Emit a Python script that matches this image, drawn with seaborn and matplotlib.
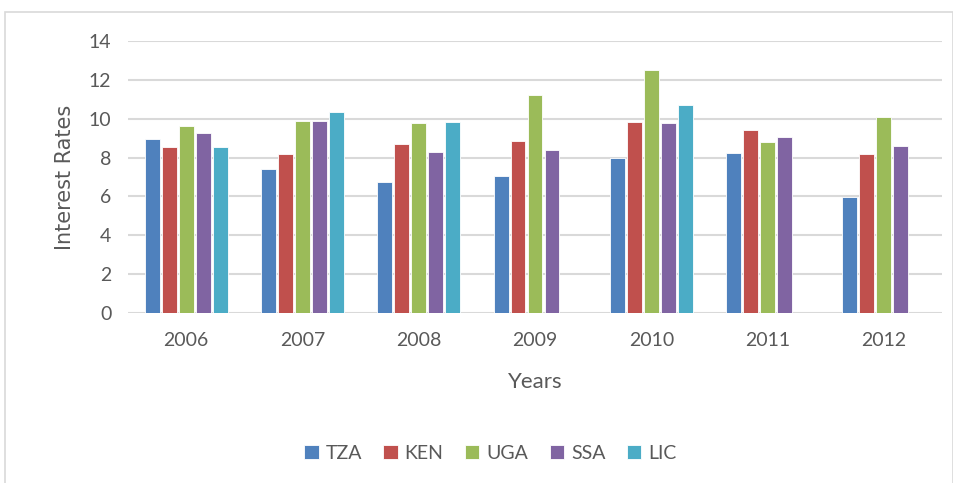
import numpy as np
import pandas as pd
import matplotlib
matplotlib.use('Agg')
import matplotlib.pyplot as plt
import seaborn as sns
from matplotlib.patches import Rectangle

# Data
years = ['2006', '2007', '2008', '2009', '2010', '2011', '2012']
tza = [8.95, 7.40, 6.74, 7.07, 7.98, 8.21, 5.95]
ken = [8.52, 8.19, 8.72, 8.83, 9.81, 9.44, 8.17]
uga = [9.62, 9.86, 9.79, 11.22, 12.49, 8.81, 10.10]
ssa = [9.27, 9.86, 8.27, 8.39, 9.79, 9.07, 8.58]
lic = [8.52, 10.32, 9.81, np.nan, 10.70, np.nan, np.nan]

series = ['TZA', 'KEN', 'UGA', 'SSA', 'LIC']
colors = ['#4F81BD', '#C0504D', '#9BBB59', '#8064A2', '#4BACC6']

# Long format table for seaborn
df = pd.DataFrame({'Year': years, 'TZA': tza, 'KEN': ken, 'UGA': uga,
                   'SSA': ssa, 'LIC': lic})
df_long = df.melt(id_vars='Year', var_name='Series', value_name='Rate').dropna()

sns.set_style('white')
plt.rcParams['font.family'] = ['Lato', 'DejaVu Sans']

fig = plt.figure(figsize=(9.54, 4.83), dpi=100)
ax = fig.add_axes([128 / 954, 1 - 313 / 483, 814 / 954, 272 / 483])

# Outer chart border
fig.patches.append(Rectangle((5 / 954, -0.01), 948 / 954, 1 - 12 / 483 + 0.01,
                             transform=fig.transFigure, fill=False,
                             edgecolor='#D9D9D9', linewidth=1.2))

sns.barplot(data=df_long, x='Year', y='Rate', hue='Series', order=years,
            hue_order=series, palette=colors, width=0.73, gap=0.12,
            saturation=1, edgecolor='white', linewidth=0.6, ax=ax)

ax.set_ylim(0, 14)
ax.set_xlim(-0.5, 6.5)
ax.set_yticks(range(0, 15, 2))
ax.yaxis.grid(True, color='#D9D9D9', linewidth=1.5)
ax.set_axisbelow(True)
for s in ax.spines.values():
    s.set_visible(False)
ax.tick_params(axis='both', length=0, labelsize=14, labelcolor='#595959')
ax.tick_params(axis='x', pad=14)
ax.tick_params(axis='y', pad=12)

ax.set_xlabel('Years', fontsize=16, color='#595959', labelpad=16)
ax.set_ylabel('Interest Rates', fontsize=15, color='#595959', labelpad=10,
              family=['DejaVu Sans'])

leg = ax.legend(loc='center', bbox_to_anchor=(0.445, -0.515), ncol=5,
                frameon=False, fontsize=14, handlelength=0.75, handleheight=0.75,
                handletextpad=0.35, columnspacing=1.1)
for t in leg.get_texts():
    t.set_color('#595959')

fig.savefig('out.png', dpi=100)
